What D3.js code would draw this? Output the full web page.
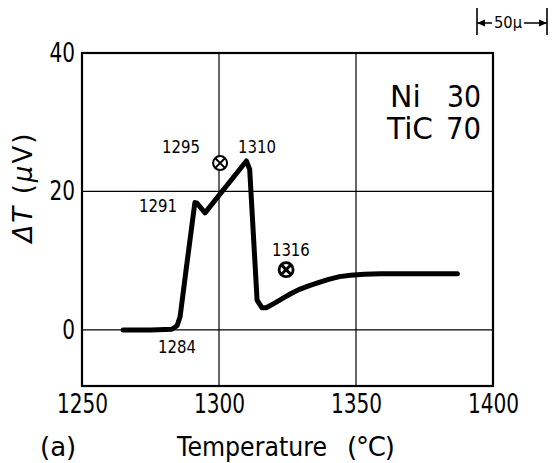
<!DOCTYPE html>
<html>
<head>
<meta charset="utf-8">
<script src="https://cdn.jsdelivr.net/npm/d3@7"></script>
<style>
  body { margin: 0; background: #fff; }
  text { font-family: "DejaVu Sans", sans-serif; fill: #000; }
</style>
</head>
<body>
<script>
// DTA curve: temperature (°C) vs ΔT (µV)
var temps  = [1265, 1275, 1282.8, 1284.7, 1285.8, 1288, 1291.2, 1292, 1294.9, 1310, 1311.2, 1313.9, 1315.7, 1317.2,
	1320, 1323.4, 1326.5, 1329.6, 1333, 1336, 1340, 1344, 1348, 1353, 1359, 1387];
var deltaT = [0, 0, 0.1, 0.6, 1.9, 8.7, 18.4, 18.3, 16.9, 24.4, 23.2, 4.3, 3.2, 3.2,
	3.8, 4.6, 5.3, 5.9, 6.4, 6.8, 7.3, 7.7, 7.9, 8.05, 8.1, 8.1];

// labelled temperatures along the curve
var labelTexts = ['1284', '1291', '1295', '1310', '1316'];
var labelX     = [1277.7, 1284.7, 1293.1, 1306.9, 1319.3];
var labelY     = [-3.3, 17.0, 25.6, 25.6, 10.7];
var labelAnchor = ['start', 'end', 'end', 'start', 'start'];

// circled-cross markers
var markX = [1300.4, 1324.5];
var markY = [24.1, 8.7];

var xTicks = [1250, 1300, 1350, 1400];
var yTicks = [0, 20, 40];

var width = 552,
	height = 463,
	margin = {top: 53, right: 59, bottom: 77, left: 82};

var svg = d3.select('body').append('svg')
	.attr('width', width)
	.attr('height', height);

var w = width - margin.left - margin.right,
	h = height - margin.top - margin.bottom;

var xScale = d3.scaleLinear().domain([1250, 1400]).range([0, w]),
	yScale = d3.scaleLinear().domain([-8.1, 40]).range([h, 0]);

var g = svg.append('g')
	.attr('transform', 'translate(' + margin.left + ',' + margin.top + ')');

// grid lines
g.selectAll('.gx')
	.data([1300, 1350])
	.enter().append('line')
	.attr('x1', function(d) { return xScale(d); })
	.attr('x2', function(d) { return xScale(d); })
	.attr('y1', 0).attr('y2', h)
	.attr('stroke', '#000').attr('stroke-width', 1.2);

g.selectAll('.gy')
	.data([0, 20])
	.enter().append('line')
	.attr('y1', function(d) { return yScale(d); })
	.attr('y2', function(d) { return yScale(d); })
	.attr('x1', 0).attr('x2', w)
	.attr('stroke', '#000').attr('stroke-width', 1.2);

// frame
g.append('rect')
	.attr('width', w).attr('height', h)
	.attr('fill', 'none').attr('stroke', '#000').attr('stroke-width', 2.2);

// axes: labels only, no tick marks; digits squeezed to look like the narrow DIN face
var xAxis = g.append('g')
	.attr('transform', 'translate(0,' + h + ')')
	.call(d3.axisBottom(xScale).tickValues(xTicks).tickSize(0).tickPadding(9).tickFormat(d3.format('d')));
xAxis.select('.domain').remove();

var yAxis = g.append('g')
	.call(d3.axisLeft(yScale).tickValues(yTicks).tickSize(0).tickPadding(7));
yAxis.select('.domain').remove();

g.selectAll('.tick text')
	.style('font-size', '26px')
	.style('font-family', '"DejaVu Sans", sans-serif')
	.attr('lengthAdjust', 'spacingAndGlyphs')
	.attr('textLength', function() { return this.textContent.length * 12.8; });

// the curve
var line = d3.line()
	.x(function(d, i) { return xScale(temps[i]); })
	.y(function(d, i) { return yScale(deltaT[i]); });

g.append('path')
	.datum(deltaT)
	.attr('d', line)
	.attr('fill', 'none')
	.attr('stroke', '#000')
	.attr('stroke-width', 5)
	.attr('stroke-linejoin', 'round')
	.attr('stroke-linecap', 'round');

// temperature labels on the curve
g.selectAll('.lbl')
	.data(labelTexts)
	.enter().append('text')
	.attr('x', function(d, i) { return xScale(labelX[i]); })
	.attr('y', function(d, i) { return yScale(labelY[i]); })
	.attr('text-anchor', function(d, i) { return labelAnchor[i]; })
	.attr('lengthAdjust', 'spacingAndGlyphs')
	.attr('textLength', 38)
	.style('font-size', '17px')
	.text(function(d) { return d; });

// circled crosses
var marks = g.selectAll('.mark')
	.data(markX)
	.enter().append('g')
	.attr('transform', function(d, i) { return 'translate(' + xScale(d) + ',' + yScale(markY[i]) + ')'; });
marks.append('circle').attr('r', 7).attr('fill', '#fff').attr('stroke', '#000')
	.attr('stroke-width', function(d, i) { return i === 0 ? 2 : 2.8; });
marks.append('path').attr('d', 'M-4.8,-4.8L4.8,4.8M-4.8,4.8L4.8,-4.8').attr('stroke', '#000')
	.attr('stroke-width', function(d, i) { return i === 0 ? 2 : 3; });

// composition
svg.append('text').attr('x', 390).attr('y', 107).style('font-size', '30px').text('Ni');
svg.append('text').attr('x', 481).attr('y', 107).attr('text-anchor', 'end').style('font-size', '30px')
	.attr('lengthAdjust', 'spacingAndGlyphs').attr('textLength', 34).text('30');
svg.append('text').attr('x', 387).attr('y', 139).style('font-size', '30px')
	.attr('lengthAdjust', 'spacingAndGlyphs').attr('textLength', 46).text('TiC');
svg.append('text').attr('x', 481).attr('y', 139).attr('text-anchor', 'end').style('font-size', '30px')
	.attr('lengthAdjust', 'spacingAndGlyphs').attr('textLength', 35).text('70');

// axis titles
svg.append('text')
	.attr('transform', 'translate(32,188) rotate(-90)')
	.attr('text-anchor', 'middle')
	.attr('textLength', 109).attr('lengthAdjust', 'spacing')
	.style('font-size', '26px')
	.html('<tspan font-style="italic">ΔT</tspan> (<tspan font-style="italic">μ</tspan>V)');

svg.append('text').attr('x', 40).attr('y', 456).style('font-size', '26px').text('(a)');
svg.append('text').attr('x', 177).attr('y', 456).style('font-size', '26px')
	.attr('textLength', 150).attr('lengthAdjust', 'spacingAndGlyphs').text('Temperature');
svg.append('text').attr('x', 347).attr('y', 456).style('font-size', '26px')
	.attr('textLength', 48).attr('lengthAdjust', 'spacing').text('(°C)');

// 50 µ scale bar
var bar = svg.append('g');
bar.append('line').attr('x1', 477).attr('x2', 477).attr('y1', 8).attr('y2', 35).attr('stroke', '#000').attr('stroke-width', 1.6);
bar.append('line').attr('x1', 547).attr('x2', 547).attr('y1', 8).attr('y2', 35).attr('stroke', '#000').attr('stroke-width', 1.6);
bar.append('path').attr('d', 'M477,23L492,23M524,23L547,23')
	.attr('fill', 'none').attr('stroke', '#000').attr('stroke-width', 1.6);
bar.append('path').attr('d', 'M477,23L485,19.5L485,26.5ZM547,23L539,19.5L539,26.5Z').attr('fill', '#000');
bar.append('text').attr('x', 494).attr('y', 28).style('font-size', '16px')
	.attr('lengthAdjust', 'spacingAndGlyphs').attr('textLength', 28).text('50μ');
</script>
</body>
</html>
